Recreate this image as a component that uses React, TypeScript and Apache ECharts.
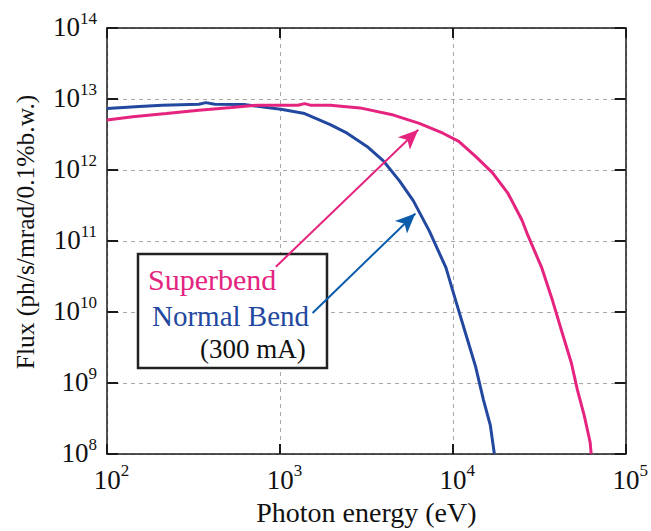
import React, { useEffect, useRef } from "react";
import * as echarts from "echarts";

// Photon energy (eV) and flux (ph/s/mrad/0.1%b.w.)
const energyNormal = [100, 154, 209, 340, 373, 420, 631, 779, 1014, 1390, 1955, 2447, 3187, 3981, 4914, 5902, 7294, 9124, 10400, 11866, 13530, 15020, 16480, 17380];
const fluxNormal = [7.33e12, 7.82e12, 8.19e12, 8.44e12, 8.89e12, 8.45e12, 8.34e12, 7.75e12, 7.19e12, 6.25e12, 4.36e12, 3.3e12, 2.15e12, 1.33e12, 7.03e11, 3.71e11, 1.4e11, 4.22e10, 1.44e10, 4.95e9, 1.72e9, 5.86e8, 2.53e8, 1.01e8];

const energySuper = [100, 141, 220, 340, 525, 748, 1268, 1390, 1500, 1955, 2904, 4540, 6395, 8770, 10820, 13530, 16930, 20900, 25120, 27170, 32660, 37760, 43060, 48520, 52480, 57540, 62230, 63100];
const fluxSuper = [5.06e12, 5.62e12, 6.25e12, 6.97e12, 7.57e12, 8.19e12, 8.19e12, 8.61e12, 8.2e12, 8.19e12, 7.5e12, 5.94e12, 4.54e12, 3.3e12, 2.53e12, 1.56e12, 9.19e11, 4.64e11, 1.96e11, 1.2e11, 4.22e10, 1.44e10, 4.95e9, 1.9e9, 8.07e8, 3.48e8, 1.47e8, 1.01e8];

// Arrow annotations (data coordinates: [energy, flux])
const arrowSuperFrom = [948, 4.35e10];
const arrowSuperTo = [6310, 3.7e12];
const arrowNormalFrom = [1545, 9.7e9];
const arrowNormalTo = [6070, 2.45e11];

const xRange = [1e2, 1e5];
const yRange = [1e8, 1e14];

const labelSuper = "Superbend";
const labelNormal = "Normal Bend";
const labelCurrent = "(300 mA)";
const xTitle = "Photon energy (eV)";
const yTitle = "Flux (ph/s/mrad/0.1%b.w.)";

const PINK = "#e4247f";
const BLUE = "#2348a0";
const ARROW_BLUE = "#0b5cab";
const FONT = "'Liberation Serif', 'Times New Roman', serif";

const zip = (xs: number[], ys: number[]) => xs.map((x, i) => [x, ys[i]]);
const expOf = (v: number) => Math.round(Math.log10(v));

export default function App() {
  const ref = useRef<HTMLDivElement>(null);
  useEffect(() => {
    if (!ref.current) return;
    const chart = echarts.init(ref.current, undefined, { renderer: "svg" });
    const rich = {
      p: { width: 9, fontSize: 27, fontFamily: FONT },
      b: { fontSize: 27, fontFamily: FONT, color: "#111", lineHeight: 31, verticalAlign: "bottom" },
      s: { fontSize: 17, fontFamily: FONT, color: "#111", lineHeight: 17, verticalAlign: "top" },
    };
    const axisLineStyle = { color: "#1a1a1a", width: 1.5 };
    const tickStyle = { color: "#1a1a1a", width: 2 };
    const split = { show: true, lineStyle: { color: "#a8a8a8", type: [4, 4], width: 1 } };
    const lineCommon = { type: "line", showSymbol: false, symbol: "none", z: 4 };
    chart.setOption({
      animation: false,
      grid: { left: 107, top: 28, width: 527, height: 434, containLabel: false },
      xAxis: [
        {
          type: "log",
          logBase: 10,
          min: xRange[0],
          max: xRange[1],
          position: "bottom",
          axisLine: { show: true, lineStyle: axisLineStyle },
          axisTick: { show: true, inside: true, length: 10, lineStyle: tickStyle },
          minorTick: { show: false },
          splitLine: split,
          axisLabel: {
            margin: 8,
            formatter: (v: number) => `{p| }{b|10}{s|${expOf(v)}}`,
            rich,
          },
          name: xTitle,
          nameLocation: "middle",
          nameGap: 40,
          nameTextStyle: { fontSize: 28, fontFamily: FONT, color: "#111" },
        },
        {
          type: "log",
          logBase: 10,
          min: xRange[0],
          max: xRange[1],
          position: "top",
          axisLine: { show: true, lineStyle: axisLineStyle },
          axisTick: { show: true, inside: true, length: 10, lineStyle: tickStyle },
          axisLabel: { show: false },
          splitLine: { show: false },
        },
      ],
      yAxis: [
        {
          type: "log",
          logBase: 10,
          min: yRange[0],
          max: yRange[1],
          position: "left",
          axisLine: { show: true, lineStyle: axisLineStyle },
          axisTick: { show: true, inside: true, length: 11, lineStyle: tickStyle },
          splitLine: split,
          axisLabel: {
            margin: 10,
            formatter: (v: number) => `{b|10}{s|${expOf(v)}}`,
            rich,
            padding: [0, 0, 6, 0],
          },
        },
        {
          type: "log",
          logBase: 10,
          min: yRange[0],
          max: yRange[1],
          position: "right",
          axisLine: { show: true, lineStyle: axisLineStyle },
          axisTick: { show: true, inside: true, length: 11, lineStyle: tickStyle },
          axisLabel: { show: false },
          splitLine: { show: false },
        },
      ],
      graphic: [
        {
          type: "rect",
          z: 1,
          shape: { x: 138, y: 254, width: 189, height: 114 },
          style: { fill: "#ffffff", stroke: "#222222", lineWidth: 2.5 },
        },
        {
          type: "text",
          z: 3,
          x: 148,
          y: 279,
          style: { text: labelSuper, fill: PINK, font: `30px ${FONT}`, textAlign: "left", textVerticalAlign: "middle" },
        },
        {
          type: "text",
          z: 3,
          x: 152,
          y: 316,
          style: { text: labelNormal, fill: BLUE, font: `29px ${FONT}`, textAlign: "left", textVerticalAlign: "middle" },
        },
        {
          type: "text",
          z: 3,
          x: 200,
          y: 349,
          style: { text: labelCurrent, fill: "#111", font: `27px ${FONT}`, textAlign: "left", textVerticalAlign: "middle" },
        },
        {
          type: "text",
          z: 3,
          x: 25,
          y: 232,
          rotation: Math.PI / 2,
          style: { text: yTitle, fill: "#111", font: `25.5px ${FONT}`, textAlign: "center", textVerticalAlign: "middle" },
        },
      ],
      series: [
        {
          ...lineCommon,
          name: labelNormal,
          data: zip(energyNormal, fluxNormal),
          lineStyle: { color: BLUE, width: 3 },
          itemStyle: { color: BLUE },
          markLine: {
            silent: true,
            symbol: ["none", "arrow"],
            symbolSize: [13, 20],
            label: { show: false },
            lineStyle: { color: ARROW_BLUE, width: 2, type: "solid" },
            data: [[{ coord: arrowNormalFrom }, { coord: arrowNormalTo }]],
          },
        },
        {
          ...lineCommon,
          name: labelSuper,
          data: zip(energySuper, fluxSuper),
          lineStyle: { color: PINK, width: 3 },
          itemStyle: { color: PINK },
          markLine: {
            silent: true,
            symbol: ["none", "arrow"],
            symbolSize: [13, 20],
            label: { show: false },
            lineStyle: { color: PINK, width: 2, type: "solid" },
            data: [[{ coord: arrowSuperFrom }, { coord: arrowSuperTo }]],
          },
        },
      ],
    });
    return () => chart.dispose();
  }, []);
  return <div ref={ref} style={{ width: 651, height: 531, position: "absolute", left: 0, top: 0, background: "#fff" }} />;
}
